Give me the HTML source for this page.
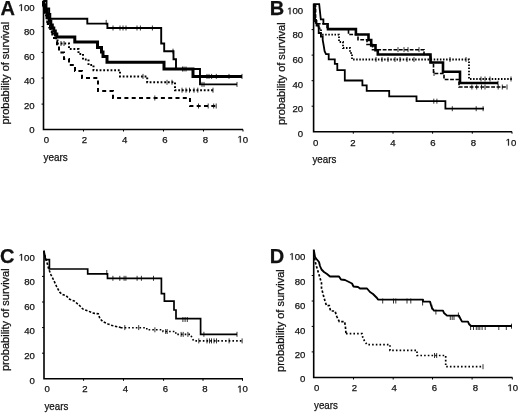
<!DOCTYPE html><html><head><meta charset="utf-8"><style>html,body{margin:0;padding:0;background:#fff;width:520px;height:413px;overflow:hidden;}svg{display:block;will-change:transform;}text{font-family:"Liberation Sans", sans-serif;fill:#111;stroke:#111;stroke-width:0.25px;}.g1{fill:#111;stroke:#111;stroke-width:0.25px;vector-effect:non-scaling-stroke;}</style></head><body>
<svg width="520" height="413" viewBox="0 0 520 413">
<rect width="520" height="413" fill="#fff"/>
<text x="0.4" y="14.8" font-size="20" text-anchor="start" font-weight="bold" >A</text>
<path d="M43.5,0.3V129.5H243" fill="none" stroke="#000" stroke-width="1.6" stroke-linecap="butt" stroke-linejoin="miter"/>
<path d="M43.5,26.6h-2M43.5,52.4h-2M43.5,78.0h-2M43.5,104.1h-2M83.5,129.5v2M123.5,129.5v2M163.5,129.5v2M203.5,129.5v2M243,129.5v2" fill="none" stroke="#000" stroke-width="1.0" stroke-linecap="butt" stroke-linejoin="miter"/>
<path class="g1" d="M515,0V1237L197,1010V1180L530,1409H696V0Z" transform="translate(18.58,10.9) scale(0.004687,-0.004687)"/>
<text x="23.92" y="10.9" font-size="9.6">0</text>
<text x="29.26" y="10.9" font-size="9.6">0</text>
<text x="34.6" y="35.4" font-size="9.6" text-anchor="end" font-weight="normal" >80</text>
<text x="34.6" y="59.800000000000004" font-size="9.6" text-anchor="end" font-weight="normal" >60</text>
<text x="34.6" y="84.0" font-size="9.6" text-anchor="end" font-weight="normal" >40</text>
<text x="34.6" y="108.6" font-size="9.6" text-anchor="end" font-weight="normal" >20</text>
<text x="34.6" y="133.2" font-size="9.6" text-anchor="end" font-weight="normal" >0</text>
<text x="46.3" y="142.6" font-size="9.6" text-anchor="middle" font-weight="normal" >0</text>
<text x="84.5" y="142.6" font-size="9.6" text-anchor="middle" font-weight="normal" >2</text>
<text x="124.7" y="142.6" font-size="9.6" text-anchor="middle" font-weight="normal" >4</text>
<text x="165" y="142.6" font-size="9.6" text-anchor="middle" font-weight="normal" >6</text>
<text x="205.5" y="142.6" font-size="9.6" text-anchor="middle" font-weight="normal" >8</text>
<path class="g1" d="M515,0V1237L197,1010V1180L530,1409H696V0Z" transform="translate(237.46,142.6) scale(0.004687,-0.004687)"/>
<text x="242.8" y="142.6" font-size="9.6">0</text>
<text x="0" y="0" font-size="11" text-anchor="middle" transform="translate(8.8,73.2) rotate(-90)">probability of survival</text>
<text x="43.6" y="160.6" font-size="10.8" text-anchor="start" font-weight="normal" textLength="24.2" lengthAdjust="spacingAndGlyphs">years</text>
<path d="M43.5,1H46.5V8.5H49.2V14H50.3V18.8H87.3V23.6H107.4V28H161.2V43.5H164.2V51.2H173.5V59.2H176V69H200V84.4H237" fill="none" stroke="#000" stroke-width="1.9" stroke-linecap="butt" stroke-linejoin="miter"/>
<path d="M106.2,19.9V24.9 M113,25.5V30.5 M120,25.5V30.5 M123,25.5V30.5 M126,25.5V30.5 M137,25.5V30.5 M140.4,25.5V30.5 M152.4,25.5V30.5 M173,48.7V53.7 M182.5,66.5V71.5 M184,66.5V71.5 M186,66.5V71.5 M202,81.9V86.9 M204,81.9V86.9 M237,81.9V86.9" fill="none" stroke="#000" stroke-width="0.8"/>
<path d="M43.5,1V5H45.5V10H47.2V14H48.3V18H49.5V21H50.8V25H52.3V28H53.8V31H55.3V34H56.8V37H74.8V42H97.5V47.5H101.5V52H103V56.5H107V62.2H164V69H193V76.4H242" fill="none" stroke="#000" stroke-width="3.0" stroke-linecap="butt" stroke-linejoin="miter"/>
<path d="M207,73.9V78.9 M209,73.9V78.9 M211.6,73.9V78.9 M216.3,73.9V78.9 M229,73.9V78.9 M242,73.9V78.9" fill="none" stroke="#000" stroke-width="0.8"/>
<path d="M43.8,2V9H44.8V14H46V18H47.3V22H48.8V26H50.3V29H51.8V32H53.3V35H55V38H57.5V43.5H69V49H78.5V54H83V59.5H88.5V65H93.5V70.3H120V76.4H147.2V82.3H175V90.2H214.5" fill="none" stroke="#000" stroke-width="2.0" stroke-linecap="butt" stroke-linejoin="miter" stroke-dasharray="1.8 1.85"/>
<path d="M143,73.9V78.9 M167,79.8V84.8 M172,79.8V84.8 M182,87.7V92.7 M186,87.7V92.7 M189.5,87.7V92.7 M194,87.7V92.7 M197.8,87.7V92.7 M213,87.7V92.7 M61,41.0V46.0 M64,41.0V46.0" fill="none" stroke="#000" stroke-width="0.8"/>
<path d="M44.2,3V11H45.3V16H46.5V20H47.8V24H49.3V27.5H50.8V31H52.3V34.5H54V38H55.8V42H57V46.5H59V52.5H64V59H69V65H75V71H82V78H98V91H113V98H190V106H216" fill="none" stroke="#000" stroke-width="2.0" stroke-linecap="butt" stroke-linejoin="miter" stroke-dasharray="4 3.3"/>
<path d="M154.8,95.5V100.5 M198.5,103.5V108.5 M208.2,103.5V108.5 M213.7,103.5V108.5 M216.2,103.5V108.5" fill="none" stroke="#000" stroke-width="0.8"/>
<text x="269.8" y="14.8" font-size="20" text-anchor="start" font-weight="bold" >B</text>
<path d="M313.6,3.6V131.7H512" fill="none" stroke="#000" stroke-width="1.6" stroke-linecap="butt" stroke-linejoin="miter"/>
<path d="M313.6,29.6h-2M313.6,55.1h-2M313.6,80.7h-2M313.6,106.2h-2M353.3,131.7v2M393,131.7v2M432.6,131.7v2M472.3,131.7v2M512,131.7v2" fill="none" stroke="#000" stroke-width="1.0" stroke-linecap="butt" stroke-linejoin="miter"/>
<path class="g1" d="M515,0V1237L197,1010V1180L530,1409H696V0Z" transform="translate(287.18,14.3) scale(0.004687,-0.004687)"/>
<text x="292.52" y="14.3" font-size="9.6">0</text>
<text x="297.86" y="14.3" font-size="9.6">0</text>
<text x="303.2" y="38.4" font-size="9.6" text-anchor="end" font-weight="normal" >80</text>
<text x="303.2" y="62.9" font-size="9.6" text-anchor="end" font-weight="normal" >60</text>
<text x="303.2" y="87.60000000000001" font-size="9.6" text-anchor="end" font-weight="normal" >40</text>
<text x="303.2" y="112.4" font-size="9.6" text-anchor="end" font-weight="normal" >20</text>
<text x="303.2" y="137.0" font-size="9.6" text-anchor="end" font-weight="normal" >0</text>
<text x="315.6" y="145.6" font-size="9.6" text-anchor="middle" font-weight="normal" >0</text>
<text x="352.8" y="145.6" font-size="9.6" text-anchor="middle" font-weight="normal" >2</text>
<text x="393" y="145.6" font-size="9.6" text-anchor="middle" font-weight="normal" >4</text>
<text x="433" y="145.6" font-size="9.6" text-anchor="middle" font-weight="normal" >6</text>
<text x="473.5" y="145.6" font-size="9.6" text-anchor="middle" font-weight="normal" >8</text>
<path class="g1" d="M515,0V1237L197,1010V1180L530,1409H696V0Z" transform="translate(505.66,145.6) scale(0.004687,-0.004687)"/>
<text x="511.0" y="145.6" font-size="9.6">0</text>
<text x="0" y="0" font-size="11" text-anchor="middle" transform="translate(285.4,73.7) rotate(-90)">probability of survival</text>
<text x="312.5" y="163.2" font-size="10.8" text-anchor="start" font-weight="normal" textLength="23.8" lengthAdjust="spacingAndGlyphs">years</text>
<path d="M313.6,4.2H319.2L320.8,19.4H323.4V23.8H328V29.1" fill="none" stroke="#000" stroke-width="1.8" stroke-linecap="butt" stroke-linejoin="miter"/>
<path d="M326.7,29.1H355.9V34.5H368.5V40H371.2V45.4H375.5V50.2H377.8V54.5H430.5V62.5H443V71.8H460V83H498" fill="none" stroke="#000" stroke-width="2.6" stroke-linecap="butt" stroke-linejoin="miter"/>
<path d="M498,80.75V85.25" fill="none" stroke="#000" stroke-width="0.8"/>
<path d="M314,5H315.6V23.8H327V29H348.5V34.5H358V39.7H367V44.5H372.5V49.7H424V54.5H430.5V62.5H433.5V73.5H444V79.5H459V87H506" fill="none" stroke="#000" stroke-width="1.6" stroke-linecap="butt" stroke-linejoin="miter" stroke-dasharray="3.8 1.6"/>
<path d="M398,47.1V52.1 M404,47.1V52.1 M408,47.1V52.1 M419,47.1V52.1 M434,71.0V76.0 M471.9,84.5V89.5 M476.7,84.5V89.5 M481.5,84.5V89.5 M485,84.5V89.5 M498.2,84.5V89.5 M502.3,84.5V89.5 M507,84.5V89.5" fill="none" stroke="#000" stroke-width="0.8"/>
<path d="M314.6,5V19H316V24H318.5V28.5H321V34.7H339V42H343V48H350V53H352V59.5H469V79H512" fill="none" stroke="#000" stroke-width="1.8" stroke-linecap="butt" stroke-linejoin="miter" stroke-dasharray="1.5 1.6"/>
<path d="M376,57.0V62.0 M382,57.0V62.0 M388,57.0V62.0 M395,57.0V62.0 M400,57.0V62.0 M407,57.0V62.0 M414,57.0V62.0 M431,57.0V62.0 M450,57.0V62.0 M466,57.0V62.0 M481,76.5V81.5 M485,76.5V81.5 M490,76.5V81.5 M511,76.5V81.5" fill="none" stroke="#000" stroke-width="0.8"/>
<path d="M315,5V21H316.5V25.5H318.7V33H320.9V36.5H322.7V40L323.6,45L324.6,51.2L326,54.2H328.7V59.3H334.8V63.8H337.3V70.2H344.8V80.5H362.4V85.4H366.7V90.8H389.2V96.3H416.5V101.2H445.4V108.7H484" fill="none" stroke="#000" stroke-width="1.8" stroke-linecap="butt" stroke-linejoin="miter"/>
<path d="M433.8,98.7V103.7 M436.9,98.7V103.7 M452.3,106.2V111.2 M476.2,106.2V111.2 M483.1,106.2V111.2" fill="none" stroke="#000" stroke-width="0.8"/>
<text x="0.0" y="263.2" font-size="20" text-anchor="start" font-weight="bold" >C</text>
<path d="M44,250.5V378.8H243" fill="none" stroke="#000" stroke-width="1.6" stroke-linecap="butt" stroke-linejoin="miter"/>
<path d="M44,276.4h-2M44,302h-2M44,327.6h-2M44,353.2h-2M83.6,378.8v2M123.5,378.8v2M163.6,378.8v2M203,378.8v2M242.5,378.8v2" fill="none" stroke="#000" stroke-width="1.0" stroke-linecap="butt" stroke-linejoin="miter"/>
<path class="g1" d="M515,0V1237L197,1010V1180L530,1409H696V0Z" transform="translate(18.78,260.6) scale(0.004687,-0.004687)"/>
<text x="24.12" y="260.6" font-size="9.6">0</text>
<text x="29.46" y="260.6" font-size="9.6">0</text>
<text x="34.8" y="285.40000000000003" font-size="9.6" text-anchor="end" font-weight="normal" >80</text>
<text x="34.8" y="309.90000000000003" font-size="9.6" text-anchor="end" font-weight="normal" >60</text>
<text x="34.8" y="334.40000000000003" font-size="9.6" text-anchor="end" font-weight="normal" >40</text>
<text x="34.8" y="358.6" font-size="9.6" text-anchor="end" font-weight="normal" >20</text>
<text x="34.8" y="383.90000000000003" font-size="9.6" text-anchor="end" font-weight="normal" >0</text>
<text x="47.2" y="392.4" font-size="9.6" text-anchor="middle" font-weight="normal" >0</text>
<text x="85" y="392.4" font-size="9.6" text-anchor="middle" font-weight="normal" >2</text>
<text x="125.3" y="392.4" font-size="9.6" text-anchor="middle" font-weight="normal" >4</text>
<text x="165.3" y="392.4" font-size="9.6" text-anchor="middle" font-weight="normal" >6</text>
<text x="205" y="392.4" font-size="9.6" text-anchor="middle" font-weight="normal" >8</text>
<path class="g1" d="M515,0V1237L197,1010V1180L530,1409H696V0Z" transform="translate(237.26,392.4) scale(0.004687,-0.004687)"/>
<text x="242.6" y="392.4" font-size="9.6">0</text>
<text x="0" y="0" font-size="11" text-anchor="middle" transform="translate(9.2,319.7) rotate(-90)">probability of survival</text>
<text x="44.5" y="410.1" font-size="10.8" text-anchor="start" font-weight="normal" textLength="23.8" lengthAdjust="spacingAndGlyphs">years</text>
<path d="M43.9,250.8L45.6,259.6H49.4V269H87.7V273.9H107.5V278.3H161.4V293.6H164.4V301.2H174V310H176V318.6H200.6V334.3H237" fill="none" stroke="#000" stroke-width="1.7" stroke-linecap="butt" stroke-linejoin="miter"/>
<path d="M106.8,270.0V275.0 M112.9,275.8V280.8 M119.8,275.8V280.8 M124.1,275.8V280.8 M125.9,275.8V280.8 M137.1,275.8V280.8 M141.4,275.8V280.8 M153.5,275.8V280.8 M182.9,317.0V322.0 M185.1,317.0V322.0 M187.3,317.0V322.0 M203.9,331.8V336.8 M237,331.8V336.8" fill="none" stroke="#000" stroke-width="0.8"/>
<path d="M43.9,251L45.5,258L47.5,264.5L48.7,269L51,274.8L53.9,280.6L56.8,287L59.7,292.2L62.6,294.6L66.1,295.7L69.6,299.2L74.2,301L79,305L82.7,308.9L88,311L93.5,313.2L98.3,313.8L99.9,318.6L103.1,321.8L108,324L112.3,325.6L119.8,327.2L121,327.8" fill="none" stroke="#000" stroke-width="1.6" stroke-linecap="butt" stroke-linejoin="miter" stroke-dasharray="2.4 1.6"/>
<path d="M121,327.8H146.8V329.8H163V331.5H175.8V334.4H190.6L192,338L193.8,340.9H243" fill="none" stroke="#000" stroke-width="1.6" stroke-linecap="butt" stroke-linejoin="miter" stroke-dasharray="1.6 2.1"/>
<path d="M124.8,325.1V330.1 M138.7,325.1V330.1 M154.9,327.3V332.3 M165.7,329.0V334.0 M167.2,329.0V334.0 M181.1,331.9V336.9 M183.2,331.9V336.9 M187.9,331.9V336.9 M198.8,338.4V343.4 M207,338.4V343.4 M209.5,338.4V343.4 M211.5,338.4V343.4 M214,338.4V343.4 M216.5,338.4V343.4 M229.1,338.4V343.4 M242.1,338.4V343.4" fill="none" stroke="#000" stroke-width="0.8"/>
<text x="269.8" y="263.4" font-size="20" text-anchor="start" font-weight="bold" >D</text>
<path d="M313.7,249.5V377.5H512.5" fill="none" stroke="#000" stroke-width="1.6" stroke-linecap="butt" stroke-linejoin="miter"/>
<path d="M313.7,275.5h-2M313.7,301h-2M313.7,326.4h-2M313.7,351.9h-2M353.5,377.5v2M393.2,377.5v2M432.5,377.5v2M472.1,377.5v2M512.3,377.5v2" fill="none" stroke="#000" stroke-width="1.0" stroke-linecap="butt" stroke-linejoin="miter"/>
<path class="g1" d="M515,0V1237L197,1010V1180L530,1409H696V0Z" transform="translate(289.38,259.8) scale(0.004687,-0.004687)"/>
<text x="294.72" y="259.8" font-size="9.6">0</text>
<text x="300.06" y="259.8" font-size="9.6">0</text>
<text x="305.4" y="284.8" font-size="9.6" text-anchor="end" font-weight="normal" >80</text>
<text x="305.4" y="309.20000000000005" font-size="9.6" text-anchor="end" font-weight="normal" >60</text>
<text x="305.4" y="333.6" font-size="9.6" text-anchor="end" font-weight="normal" >40</text>
<text x="305.4" y="358.0" font-size="9.6" text-anchor="end" font-weight="normal" >20</text>
<text x="305.4" y="382.0" font-size="9.6" text-anchor="end" font-weight="normal" >0</text>
<text x="316.7" y="391" font-size="9.6" text-anchor="middle" font-weight="normal" >0</text>
<text x="354.5" y="391" font-size="9.6" text-anchor="middle" font-weight="normal" >2</text>
<text x="394.1" y="391" font-size="9.6" text-anchor="middle" font-weight="normal" >4</text>
<text x="434.5" y="391" font-size="9.6" text-anchor="middle" font-weight="normal" >6</text>
<text x="475.3" y="391" font-size="9.6" text-anchor="middle" font-weight="normal" >8</text>
<path class="g1" d="M515,0V1237L197,1010V1180L530,1409H696V0Z" transform="translate(507.46,391) scale(0.004687,-0.004687)"/>
<text x="512.8" y="391" font-size="9.6">0</text>
<text x="0" y="0" font-size="11" text-anchor="middle" transform="translate(284.3,320.6) rotate(-90)">probability of survival</text>
<text x="314.1" y="408.5" font-size="10.8" text-anchor="start" font-weight="normal" textLength="23.8" lengthAdjust="spacingAndGlyphs">years</text>
<path d="M313.8,250L315,257L316.5,259L319,262L320,266L321.5,269.5L324,272L327,274L330,276.5H339L341,279.5L345,280L350,282.5L352,283.5L353.5,286.5L358,287L360,288.5H367L370,292L373,294L375,296L377,298L378,299.6H423V301.6H430L431,305L432,308L434,310.6H443L444,313L447,315.6H459L460,318L462,321.6H468L469,324L471,326H512" fill="none" stroke="#000" stroke-width="1.9" stroke-linecap="butt" stroke-linejoin="round"/>
<path d="M382.7,298.5V303.5 M393.5,298.5V303.5 M395.8,298.5V303.5 M407,298.5V303.5 M410.8,298.5V303.5 M422.6,300.5V305.5 M431.8,304.5V309.5 M435.9,309.5V314.5 M450.3,315.0V320.0 M452.2,315.0V320.0 M454,315.0V320.0 M458.4,312.5V317.5 M470.6,325.0V330.0 M473.5,325.0V330.0 M476.3,325.0V330.0 M478.1,325.0V330.0 M479.8,325.0V330.0 M482.1,325.0V330.0 M485.2,325.0V330.0 M498.8,325.0V330.0 M506.3,325.0V330.0 M511.5,323.7V328.7" fill="none" stroke="#000" stroke-width="0.8"/>
<path d="M314.5,258L316,265L317,268L318.5,273L320,278L321.5,283L321.5,288L323.3,295L325,301L326.5,305.7H329.3L330.5,311H335L336.7,316.3L339.3,321.7H344.7L345.5,327.7L346,333.7" fill="none" stroke="#000" stroke-width="1.7" stroke-linecap="butt" stroke-linejoin="miter" stroke-dasharray="2.4 1.8"/>
<path d="M346,333.7H362L363,338.5L367,344.6H390V350.4H417V355.5H445.7V366.7H483" fill="none" stroke="#000" stroke-width="1.7" stroke-linecap="butt" stroke-linejoin="miter" stroke-dasharray="1.6 2.1"/>
<path d="M434.5,353.0V358.0 M436.7,353.0V358.0 M483,364.2V369.2" fill="none" stroke="#000" stroke-width="0.8"/>
</svg></body></html>
